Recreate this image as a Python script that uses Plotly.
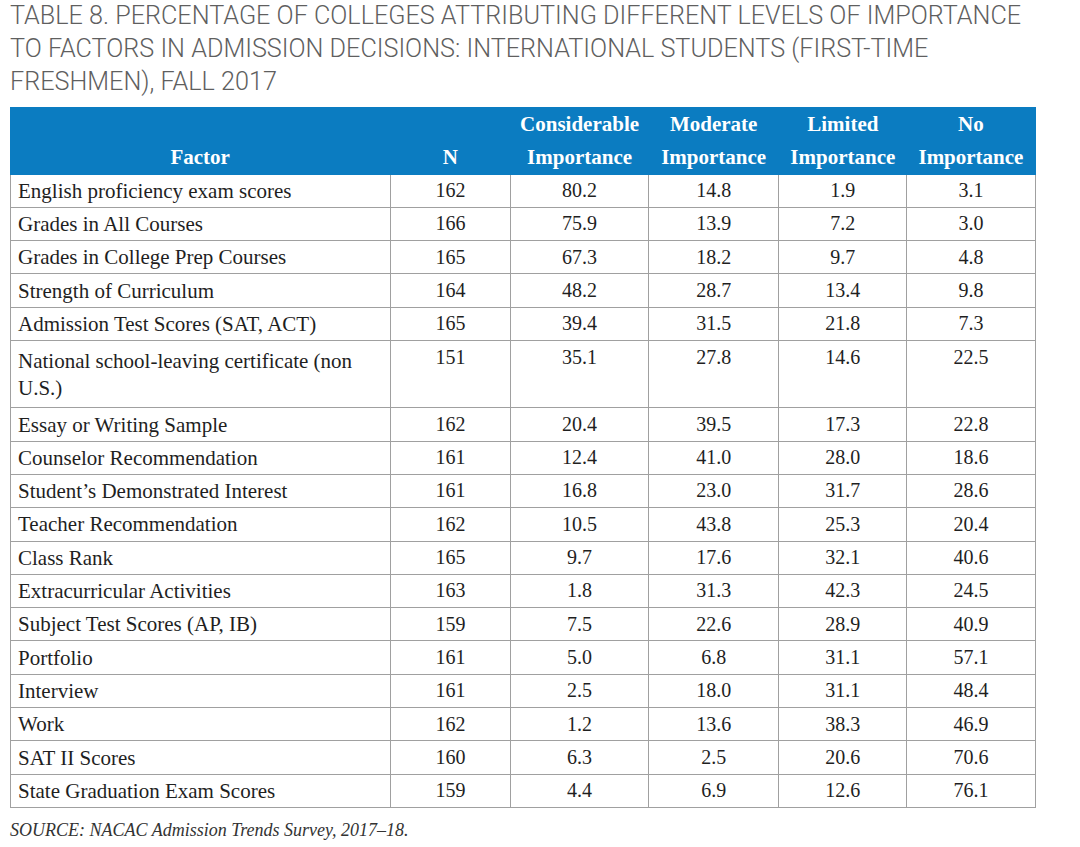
import plotly.graph_objects as go

factors = [
    "English proficiency exam scores",
    "Grades in All Courses",
    "Grades in College Prep Courses",
    "Strength of Curriculum",
    "Admission Test Scores (SAT, ACT)",
    "National school-leaving certificate (non<br>U.S.)",
    "Essay or Writing Sample",
    "Counselor Recommendation",
    "Student’s Demonstrated Interest",
    "Teacher Recommendation",
    "Class Rank",
    "Extracurricular Activities",
    "Subject Test Scores (AP, IB)",
    "Portfolio",
    "Interview",
    "Work",
    "SAT II Scores",
    "State Graduation Exam Scores",
]
n_values = [162, 166, 165, 164, 165, 151, 162, 161, 161, 162, 165, 163, 159, 161, 161, 162, 160, 159]
considerable = [80.2, 75.9, 67.3, 48.2, 39.4, 35.1, 20.4, 12.4, 16.8, 10.5, 9.7, 1.8, 7.5, 5.0, 2.5, 1.2, 6.3, 4.4]
moderate = [14.8, 13.9, 18.2, 28.7, 31.5, 27.8, 39.5, 41.0, 23.0, 43.8, 17.6, 31.3, 22.6, 6.8, 18.0, 13.6, 2.5, 6.9]
limited = [1.9, 7.2, 9.7, 13.4, 21.8, 14.6, 17.3, 28.0, 31.7, 25.3, 32.1, 42.3, 28.9, 31.1, 31.1, 38.3, 20.6, 12.6]
no_imp = [3.1, 3.0, 4.8, 9.8, 7.3, 22.5, 22.8, 18.6, 28.6, 20.4, 40.6, 24.5, 40.9, 57.1, 48.4, 46.9, 70.6, 76.1]

# two header rows per column (top line, bottom line)
headers = [["", "Factor"], ["", "N"], ["Considerable", "Importance"], ["Moderate", "Importance"],
           ["Limited", "Importance"], ["No", "Importance"]]

title_text = ("TABLE 8. PERCENTAGE OF COLLEGES ATTRIBUTING DIFFERENT LEVELS OF IMPORTANCE<br>"
              "TO FACTORS IN ADMISSION DECISIONS: INTERNATIONAL STUDENTS (FIRST-TIME<br>"
              "FRESHMEN), FALL 2017")
source_text = "SOURCE: NACAC Admission Trends Survey, 2017–18."

W, H = 1080, 847
serif = "Liberation Serif, Times New Roman, serif"
blue = "#0b7cc1"

fig = go.Figure(go.Table(
    columnwidth=[380, 120, 138, 130, 128, 128],
    domain=dict(x=[10 / W, 1035 / W], y=[0, 1 - 107 / H]),
    header=dict(
        values=headers,
        fill_color=blue,
        line=dict(color=blue, width=1),
        font=dict(family=serif, size=21, color="white", weight=700),
        align="center",
        height=33.5,
    ),
    cells=dict(
        values=[factors, n_values,
                [f"{v:.1f}" for v in considerable],
                [f"{v:.1f}" for v in moderate],
                [f"{v:.1f}" for v in limited],
                [f"{v:.1f}" for v in no_imp]],
        fill_color="white",
        line=dict(color="#a0a0a0", width=1),
        font=dict(family=serif, size=[21, 20, 20, 20, 20, 20], color="#1f1f1f"),
        align=["left", "center", "center", "center", "center", "center"],
        height=33.3,
    ),
))

fig.update_layout(
    width=W, height=H,
    margin=dict(l=0, r=0, t=0, b=0),
    paper_bgcolor="white",
    annotations=[
        dict(text=title_text, x=8 / W, y=1 + 1 / H, xref="paper", yref="paper",
             xanchor="left", yanchor="top", align="left", showarrow=False,
             font=dict(family="Roboto, Liberation Sans, sans-serif", weight=300,
                       size=25.2, color="#5f5f5f")),
        dict(text=f"<i>{source_text}</i>", x=8 / W, y=1 - 818 / H, xref="paper", yref="paper",
             xanchor="left", yanchor="top", align="left", showarrow=False,
             font=dict(family=serif, size=18, color="#333333")),
    ],
)

fig.write_html("out.html", config={"displayModeBar": False},
               post_script="document.body.style.margin='0';")
